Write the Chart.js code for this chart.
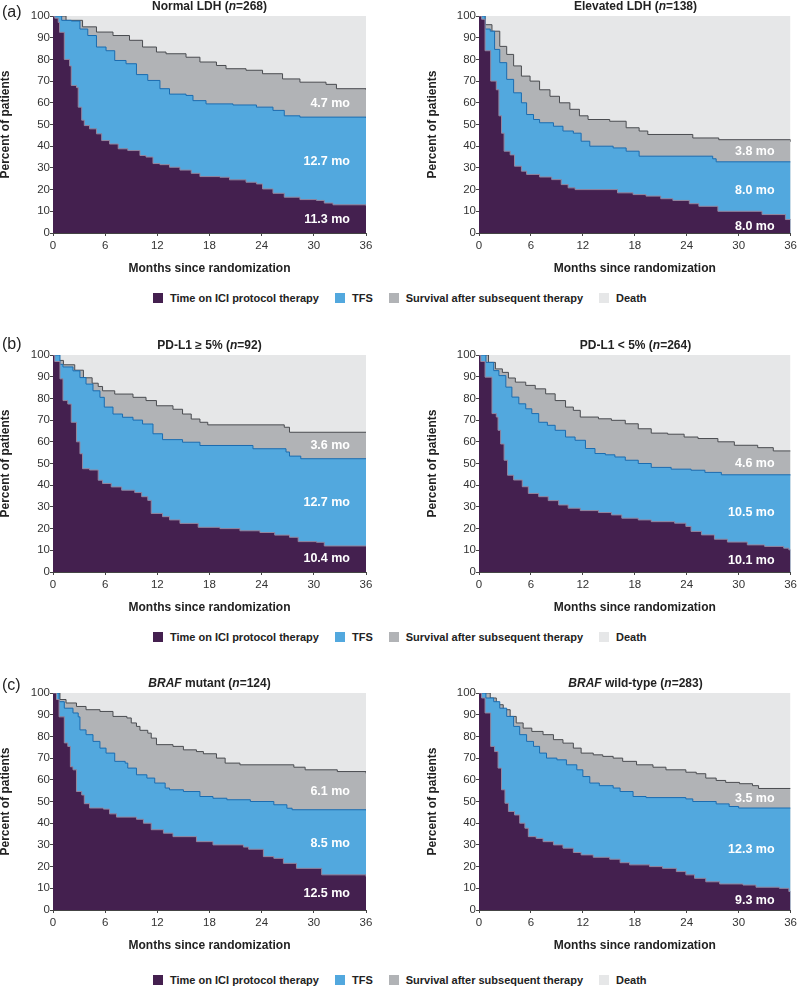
<!DOCTYPE html>
<html>
<head>
<meta charset="utf-8">
<script src="https://cdn.jsdelivr.net/npm/chart.js@4.4.0/dist/chart.umd.min.js"></script>
<style>
body { margin: 0; background: #fff; font-family: "Liberation Sans", Arial, sans-serif; }
#page { position: relative; width: 800px; height: 986px; overflow: hidden; }
canvas { position: absolute; }
.title { position: absolute; width: 313px; font-weight: bold; font-size: 12px; color: #222; text-align: center; line-height: 14px; white-space: nowrap; }
.tag { position: absolute; font-size: 16px; color: #222; line-height: 18px; }
.legend { position: absolute; left: 153px; display: flex; align-items: center; font-weight: bold; font-size: 11px; color: #222; line-height: 14px; white-space: nowrap; }
.legend .sw { width: 10px; height: 10px; margin-right: 7px; }
.legend .txt { margin-right: 16px; }
</style>
</head>
<body>
<div id="page"></div>
<script>
// series names and colours
const seriesNames = ['Time on ICI protocol therapy', 'TFS', 'Survival after subsequent therapy', 'Death'];
const seriesColors = ['#44204f', '#52a8de', '#b1b3b6', '#e6e7e8'];
const xTicks = [0, 6, 12, 18, 24, 30, 36];
const deathLevel = [[0, 100], [36, 100]];

// [month, percent] step points
const normalLdhIci = [[0,100],[0.2,99],[0.6,97],[0.75,92.5],[1.3,80],[1.9,77],[2.1,68],[2.7,67],[2.9,58],[3.3,52],[3.6,49.5],[4.2,48],[5.0,45.7],[5.6,42.6],[6.5,41],[7.5,38.8],[8.6,38],[10,35.7],[10.7,35],[11.5,32],[12.3,31.5],[13.4,30.3],[14.6,29],[15.9,27.5],[16.9,26],[19.2,25.7],[20.3,24.5],[22.2,23.4],[23.4,22.6],[24.1,20.3],[25.3,18.3],[26.6,16.5],[28.4,15.4],[30.3,15],[31.2,13.8],[32.2,13],[36,12.6]];
const normalLdhTfs = [[0,100],[1.0,98],[2.1,97.7],[3.1,94],[4.0,91],[5.0,85.7],[6.1,84],[7.1,79.5],[8.4,78],[9.6,73],[10.9,70.3],[12.3,66.5],[13.4,64],[15.3,63.4],[16.1,61],[17.6,59.5],[20.7,59],[23.4,58],[25.3,56.5],[26.6,54],[28.4,53.4],[36,53]];
const normalLdhOs = [[0,100],[1.5,98],[3.4,95],[5.0,92.6],[6.9,91],[8.8,88.8],[10.3,85.7],[11.9,83.4],[13,82.6],[15.3,81],[16.9,78.8],[18.8,77.2],[19.9,75.7],[22.2,75],[24.1,73.4],[26.4,71],[28.4,69.5],[31.4,68.5],[32.6,66.5],[36,66]];
const normalLdhLabels = ['11.3 mo', '12.7 mo', '4.7 mo'];

const elevLdhIci = [[0,100],[0.3,98.5],[0.7,84],[1.35,70],[2.0,66],[2.3,54],[2.6,46],[2.9,37.7],[3.6,36],[4.1,30.8],[4.9,28.5],[5.5,27],[7.0,25.8],[8.4,24.6],[9.5,22.3],[10.3,20.8],[11.1,20],[16,18.5],[17.8,17.7],[19.3,17],[21,15.8],[22.4,15],[24.3,13.5],[25.4,12.3],[27.6,10],[32.7,8.5],[35.4,6.2],[36,6]];
const elevLdhTfs = [[0,100],[0.7,94],[1.3,93],[1.8,84.6],[2.4,78.5],[3.2,70.8],[4.0,64.6],[4.9,60],[5.5,54.6],[6.3,52.3],[7.0,50.8],[8.6,49.2],[9.7,47],[10.9,46],[11.8,42.3],[12.8,40],[15.5,39.2],[17,37.7],[18.5,35.4],[27,34.2],[27.4,32.8],[36,32.8]];
const elevLdhOs = [[0,100],[0.7,96],[1.5,93],[2.4,86],[3.2,82.3],[4.0,77],[4.9,72.3],[5.9,70],[7.0,66],[8.2,63],[9.3,60],[10.5,57],[11.6,54],[12.6,52.3],[15.1,51.5],[17,48.5],[18.5,47],[19.5,45.4],[24.7,43.8],[27.7,43],[36,42]];
const elevLdhLabels = ['8.0 mo', '8.0 mo', '3.8 mo'];

const pdHighIci = [[0,100],[0.2,97],[0.8,89],[1.15,79],[1.7,77.4],[2.1,69],[2.7,60],[3.1,54.5],[3.4,47.6],[4.2,47],[5.2,42.3],[5.7,40.8],[6.7,39.2],[7.9,37.7],[9.4,36.6],[10.2,34.7],[10.9,33],[11.3,27],[12.6,25.5],[13.4,24],[14.6,22.4],[16.7,20.6],[19.2,20],[21.5,19],[23.8,18.2],[25.5,17],[27.2,16],[28.2,14],[30.3,13.7],[31.2,12],[36,12]];
const pdHighTfs = [[0,100],[0.8,95.7],[1.15,94.5],[2.3,92.7],[3.1,89.6],[3.8,86.6],[4.6,83.5],[5.4,80.5],[5.9,76],[6.9,72.8],[8.0,71.3],[9.2,70],[10.3,68.2],[11.5,63.7],[12.6,61],[14.9,59.8],[16.9,58.3],[23,56.8],[26.8,55.3],[27.2,53.4],[28.5,52.2],[36,52.2]];
const pdHighOs = [[0,100],[0.5,97.5],[1.2,95.5],[2.5,93],[3.5,89.5],[4.5,87],[5.2,85.5],[5.7,83.5],[7.1,82],[9.2,80.5],[10.7,79],[11.9,76.6],[13.8,75],[14.9,72.8],[15.9,70.5],[16.9,69],[17.8,67.8],[26.6,66.7],[27.2,64.4],[36,64.4]];
const pdHighLabels = ['10.4 mo', '12.7 mo', '3.6 mo'];

const pdLowIci = [[0,100],[0.2,97],[0.7,89.8],[1.5,73],[2.0,71.4],[2.2,65.3],[2.5,59],[2.9,51.5],[3.3,44.6],[4.0,42.4],[5.0,39.3],[5.7,36.2],[6.9,34.7],[8.0,32.9],[9.2,30.9],[10.3,29.4],[11.7,28.3],[13.8,27.4],[15.3,26.3],[16.5,24.8],[18.4,24],[19.9,23.2],[22.6,22.5],[23.9,21],[24.5,18.7],[25.7,17.1],[27.2,15.1],[28.7,13.8],[31,12.5],[33,11.8],[35.2,11],[35.8,10.2],[36,10.2]];
const pdLowTfs = [[0,100],[0.8,96.6],[1.7,92.8],[2.3,90.5],[3.1,85.2],[3.8,80.6],[4.6,77.5],[5.4,75.2],[6.1,73],[6.9,69],[7.9,67.6],[8.8,65.3],[10.0,62.2],[11.1,60.7],[12.3,56.9],[13.4,54.6],[14.6,54],[15.7,53],[16.9,51.5],[18.4,50],[19.9,48.2],[22.2,47.4],[24.5,46.9],[26.1,45.9],[28,44.8],[36,44.6]];
const pdLowOs = [[0,100],[1.1,96.6],[1.9,93.6],[2.7,92],[3.4,89.4],[4.2,87.5],[5.4,86],[6.5,84.4],[7.7,82.1],[8.8,79],[10.0,76],[10.9,74.5],[11.7,71.4],[13.8,70.6],[15.3,69.9],[16.9,68.3],[18.4,66],[19.9,64],[21.8,63.5],[23.7,62.2],[25.3,61.5],[27.6,60],[29.5,58.4],[32.2,57.3],[34,55.8],[36,55.8]];
const pdLowLabels = ['10.1 mo', '10.5 mo', '4.6 mo'];

const brafMutIci = [[0,100],[0.4,97],[0.7,89],[1.3,77],[1.7,75.4],[2.0,66],[2.3,64.6],[2.7,54.6],[3.3,53],[3.6,49],[4.2,47],[5.8,46.5],[6.5,44.3],[7.3,42.8],[9.6,41.8],[10.4,40],[11.3,37],[12.7,35.4],[13.8,33.8],[16.5,31.5],[18.4,30],[21.9,29],[22.5,28],[24.2,24.6],[25.4,23.8],[26.5,21.5],[28,19.2],[30.9,16.2],[36,15.4]];
const brafMutTfs = [[0,100],[0.7,96],[1.3,93],[2.3,90.8],[2.9,89],[3.1,83],[3.8,80.8],[4.6,77.7],[5.4,74.6],[6.1,72.3],[7.1,68.5],[8.3,67.7],[8.6,65.4],[9.6,62.3],[10.8,60.8],[11.7,58.5],[12.9,56.2],[13.4,55.4],[15,54.6],[16.9,52.3],[18.4,51.5],[20,50.8],[22.7,50],[25.4,48.5],[26.9,46.9],[27.5,46.2],[36,46]];
const brafMutOs = [[0,100],[0.8,97],[1.5,95.4],[2.7,93.8],[3.8,92.3],[5.4,91.5],[6.9,89.2],[8.5,88.5],[9,86.2],[9.6,84.6],[10,82.8],[10.9,81.5],[11.3,79.2],[11.9,76.2],[13.8,75.4],[15,73.8],[16.5,73],[17.3,72],[18.8,70],[19.8,67.7],[21.5,66.9],[27.7,65.8],[29,64.6],[32.7,63.8],[36,63]];
const brafMutLabels = ['12.5 mo', '8.5 mo', '6.1 mo'];

const brafWtIci = [[0,100],[0.3,97.7],[0.7,90.8],[1.35,75.4],[1.8,73],[2.2,65.4],[2.6,55.4],[3.0,49.2],[3.4,45.4],[4.1,43.8],[4.7,40],[5.3,37.7],[5.7,33.8],[6.6,33],[7.4,31.5],[8.6,30],[9.7,28.5],[10.9,26.5],[11.8,25.4],[13.2,24.3],[15.1,23.4],[16.3,21.8],[17.4,20.8],[19.7,20],[21.2,19.2],[22.8,17.7],[23.9,16.2],[24.9,14.6],[26.2,13],[27.8,12],[30.5,11.5],[32,10.5],[34.7,10],[35.8,8.5],[36,8.5]];
const brafWtTfs = [[0,100],[0.8,97.7],[1.7,96],[2.4,93],[3.2,89.2],[4.0,84.6],[4.7,80.8],[5.5,77.7],[6.3,75.4],[7.0,72.3],[7.8,70],[9,69.2],[10.1,66.9],[11.3,64.6],[12,61.5],[12.8,58.5],[13.9,57.3],[15.5,56.2],[16.3,54.6],[17.8,52.3],[19.3,51.8],[23.9,51.2],[24.7,50],[27.4,48.9],[28.9,47.7],[30,47],[36,47]];
const brafWtOs = [[0,100],[1.3,97.7],[2,94.6],[2.8,92.3],[3.6,89.2],[4.3,86.2],[5.1,83.8],[6.1,82.3],[7.4,80.8],[8.6,78.5],[9.7,76.9],[10.9,74.6],[11.8,72.3],[13.2,71.5],[14.3,70.8],[15.5,70],[16.6,68.5],[18.2,66.9],[20.1,65.8],[21.6,64.6],[23.9,63.5],[25.1,62.8],[26.2,60.8],[27.4,59.7],[28.5,58.8],[30.1,58.2],[31.6,57.3],[32.3,56],[36,56]];
const brafWtLabels = ['9.3 mo', '12.3 mo', '3.5 mo'];

const page = document.getElementById('page');
const TICK_FONT = "'Liberation Sans', Arial, sans-serif";
const BOLD_FONT = "'Liberation Sans', Arial, sans-serif";

function toXY(pts) {
    return pts.map(p => ({ x: p[0], y: p[1] }));
}

// white "x.x mo" text in the middle of each band at the right edge
const bandLabels = {
    id: 'bandLabels',
    afterDatasetsDraw(chart, args, opts) {
        const { ctx, chartArea } = chart;
        const y = chart.scales.y;
        const ends = chart.data.datasets.slice(0, 3).map(d => d.data[d.data.length - 1].y);
        const bounds = [0].concat(ends);
        ctx.save();
        ctx.font = 'bold 12.5px ' + BOLD_FONT;
        ctx.fillStyle = '#ffffff';
        ctx.textAlign = 'right';
        ctx.textBaseline = 'middle';
        opts.texts.forEach((t, i) => {
            const mid = (bounds[i] + bounds[i + 1]) / 2;
            ctx.fillText(t, chartArea.right - 16, y.getPixelForValue(mid));
        });
        ctx.restore();
    }
};

function makeChart(p) {
    const canvas = document.createElement('canvas');
    canvas.width = p.w;
    canvas.height = 271;
    canvas.style.left = p.left + 'px';
    canvas.style.top = (p.plotTop - 10) + 'px';
    page.appendChild(canvas);

    const edge = ['#94869f', '#1b6cb0', '#4a4c50'];
    const datasets = p.curves.map((c, i) => ({
        label: seriesNames[i],
        data: toXY(c),
        stepped: true,
        fill: 'origin',
        backgroundColor: seriesColors[i],
        borderColor: edge[i],
        borderWidth: 1,
        pointRadius: 0
    }));
    datasets.push({
        label: seriesNames[3],
        data: toXY(deathLevel),
        fill: 'origin',
        backgroundColor: seriesColors[3],
        borderColor: 'transparent',
        borderWidth: 0,
        pointRadius: 0
    });

    new Chart(canvas, {
        type: 'line',
        data: { datasets: datasets },
        options: {
            responsive: false,
            animation: false,
            layout: { padding: { left: 0, right: p.padRight, top: 10, bottom: 0 } },
            plugins: {
                legend: { display: false },
                tooltip: { enabled: false },
                bandLabels: { texts: p.labels }
            },
            scales: {
                x: {
                    type: 'linear',
                    min: 0,
                    max: 36,
                    afterBuildTicks: s => { s.ticks = xTicks.map(v => ({ value: v })); },
                    afterFit: s => { s.height = 44; },
                    grid: { drawOnChartArea: false, tickLength: 3, color: '#444' },
                    border: { color: '#444', width: 1 },
                    ticks: { padding: 3, color: '#333', font: { family: TICK_FONT, size: 11.5 }, maxRotation: 0 },
                    title: { display: true, text: 'Months since randomization', color: '#222',
                             font: { family: BOLD_FONT, size: 12, weight: 'bold' }, padding: { top: 0, bottom: 1 } }
                },
                y: {
                    min: 0,
                    max: 100,
                    afterFit: s => { s.width = p.yWidth; },
                    grid: { drawOnChartArea: false, tickLength: 3, color: '#444' },
                    border: { color: '#444', width: 1 },
                    ticks: { stepSize: 10, padding: 0, color: '#333', font: { family: TICK_FONT, size: 11.5 } },
                    title: { display: true, text: 'Percent of patients', color: '#222',
                             font: { family: BOLD_FONT, size: 12, weight: 'bold' }, padding: { top: 0, bottom: 0 } }
                }
            }
        },
        plugins: [bandLabels]
    });

    const t = document.createElement('div');
    t.className = 'title';
    t.innerHTML = p.title;
    t.style.left = (p.left + p.yWidth) + 'px';
    t.style.top = (p.plotTop - 17) + 'px';
    page.appendChild(t);
}

const L = { left: -2, w: 380, yWidth: 55, padRight: 12 };
const R = { left: 425, w: 375, yWidth: 54, padRight: 8 };

const panels = [
    Object.assign({ plotTop: 16, title: 'Normal LDH (<i>n</i>=268)', curves: [normalLdhIci, normalLdhTfs, normalLdhOs], labels: normalLdhLabels }, L),
    Object.assign({ plotTop: 16, title: 'Elevated LDH (<i>n</i>=138)', curves: [elevLdhIci, elevLdhTfs, elevLdhOs], labels: elevLdhLabels }, R),
    Object.assign({ plotTop: 355, title: 'PD-L1 ≥ 5% (<i>n</i>=92)', curves: [pdHighIci, pdHighTfs, pdHighOs], labels: pdHighLabels }, L),
    Object.assign({ plotTop: 355, title: 'PD-L1 &lt; 5% (<i>n</i>=264)', curves: [pdLowIci, pdLowTfs, pdLowOs], labels: pdLowLabels }, R),
    Object.assign({ plotTop: 693, title: '<i>BRAF</i> mutant (<i>n</i>=124)', curves: [brafMutIci, brafMutTfs, brafMutOs], labels: brafMutLabels }, L),
    Object.assign({ plotTop: 693, title: '<i>BRAF</i> wild-type (<i>n</i>=283)', curves: [brafWtIci, brafWtTfs, brafWtOs], labels: brafWtLabels }, R)
];
panels.forEach(makeChart);

// panel tags
[['(a)', 3], ['(b)', 335], ['(c)', 676]].forEach(([txt, top]) => {
    const d = document.createElement('div');
    d.className = 'tag';
    d.textContent = txt;
    d.style.left = '2px';
    d.style.top = top + 'px';
    page.appendChild(d);
});

// legend rows
[291, 630, 973].forEach(top => {
    const lg = document.createElement('div');
    lg.className = 'legend';
    lg.style.top = top + 'px';
    seriesNames.forEach((name, i) => {
        const sw = document.createElement('span');
        sw.className = 'sw';
        sw.style.background = seriesColors[i];
        const tx = document.createElement('span');
        tx.className = 'txt';
        tx.textContent = name;
        lg.appendChild(sw);
        lg.appendChild(tx);
    });
    page.appendChild(lg);
});
</script>
</body>
</html>
